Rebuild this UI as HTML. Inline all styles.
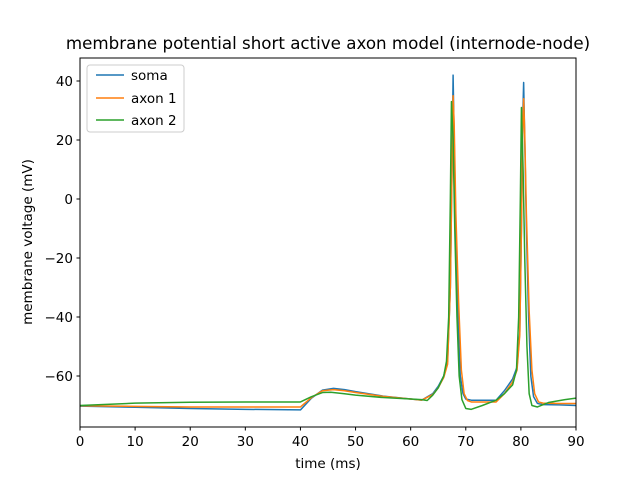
<!DOCTYPE html>
<html><head><meta charset="utf-8"><style>
body{margin:0;background:#fff}
svg{display:block;font-family:"DejaVu Sans","Liberation Sans",sans-serif}
</style></head><body>
<svg id="chart" width="640" height="480">
<rect width="640" height="480" fill="#fff"/>
<text x="328" y="49" text-anchor="middle" font-size="16.7">membrane potential short active axon model (internode-node)</text>
<g id="plot"></g>
<rect x="80" y="58" width="496" height="369" fill="none" stroke="#000" stroke-width="1"/>
<g id="xt"></g><g id="yt"></g>
<text x="328" y="468" text-anchor="middle" font-size="13.5">time (ms)</text>
<text transform="translate(32,242) rotate(-90)" text-anchor="middle" font-size="13.5">membrane voltage (mV)</text>
<g>
<rect x="87" y="65" width="97" height="67" rx="3" fill="#fff" fill-opacity="0.8" stroke="#ccc"/>
<g><line x1="96" x2="124" y1="75" y2="75" stroke="#1f77b4" stroke-width="1.5"/><text x="131" y="80" font-size="13.5">soma</text></g>
<g><line x1="96" x2="124" y1="98" y2="98" stroke="#ff7f0e" stroke-width="1.5"/><text x="131" y="103" font-size="13.5">axon 1</text></g>
<g><line x1="96" x2="124" y1="120" y2="120" stroke="#2ca02c" stroke-width="1.5"/><text x="131" y="125" font-size="13.5">axon 2</text></g>
</g>
</svg>
<script>
const xTicks=[0,10,20,30,40,50,60,70,80,90];
const yTicks=[40,20,0,-20,-40,-60];
const somaT=[0,10,20,30,40,42,44,46,48,50,55,60,62,64,65,66,66.7,67.2,67.5,67.7,67.9,68.2,68.6,69,69.5,70,71,75.5,77,78.5,79.3,79.8,80.1,80.3,80.5,80.7,81.0,81.4,81.8,82.3,83,84,87,90];
const somaV=[-70.2,-70.6,-71,-71.3,-71.5,-67.5,-64.8,-64.2,-64.6,-65.3,-66.8,-67.8,-68.2,-66,-63.5,-60,-55,-30,10,42,20,-10,-40,-60,-66,-67.8,-68.2,-68.2,-65,-61,-57,-45,-10,25,39.5,20,-10,-40,-60,-67,-69.3,-69.7,-69.8,-70];
const axon1T=[0,10,20,30,40,42,44,46,48,50,55,60,62,64,65,66,66.7,67.2,67.5,67.7,67.9,68.2,68.7,69.2,69.7,70.3,71,75.5,77,78.5,79.3,79.8,80.1,80.3,80.5,80.7,81.0,81.5,82,82.5,83.2,84,87,90];
const axon1V=[-70.1,-70.3,-70.5,-70.5,-70.5,-67.3,-65,-64.6,-65,-65.6,-66.9,-67.8,-68.2,-66.3,-64,-60.5,-56,-30,10,35,25,-5,-35,-58,-66,-68.3,-68.8,-68.8,-66,-62,-58,-46,-10,20,34,22,-5,-38,-58,-66,-68.8,-69.2,-69.3,-69.3];
const axon2T=[0,10,20,30,40,42,44,45.5,48,50,55,60,62,63,64,65,66,66.5,66.9,67.2,67.4,67.7,68,68.4,68.8,69.3,70,71,73,75.5,77,78.5,79.2,79.6,79.9,80.1,80.4,80.7,81.1,81.5,82,83,85,88,90];
const axon2V=[-70,-69.2,-68.9,-68.8,-68.8,-67,-65.6,-65.5,-66,-66.5,-67.3,-67.8,-68,-68.3,-66.5,-64,-60,-55,-40,0,33,20,-10,-40,-60,-68,-71,-71.3,-70,-68.2,-66,-63,-58,-40,0,31,10,-20,-50,-66,-70,-70.5,-69,-68,-67.5];
const X=t=>80+t*496/90;
const Y=v=>199-v*2.95;
const NS="http://www.w3.org/2000/svg";
const plot=document.getElementById('plot');
function series(T,V,color,name){
  const p=document.createElementNS(NS,'path');
  p.setAttribute('d',T.map((t,i)=>(i?'L':'M')+X(t).toFixed(2)+','+Y(V[i]).toFixed(2)).join(''));
  p.setAttribute('fill','none');p.setAttribute('stroke',color);p.setAttribute('stroke-width','1.5');p.setAttribute('stroke-linejoin','round');
  
  
  plot.appendChild(p);
}
series(somaT,somaV,'#1f77b4','soma-line');
series(axon1T,axon1V,'#ff7f0e','axon-1-line');
series(axon2T,axon2V,'#2ca02c','axon-2-line');
const xt=document.getElementById('xt');
xTicks.forEach(t=>{
  const g=document.createElementNS(NS,'g');
  
  
  g.innerHTML=`<line x1="${X(t)}" x2="${X(t)}" y1="427" y2="430.5" stroke="#000"/><text x="${X(t)}" y="446" text-anchor="middle" font-size="13.5">${t}</text>`;
  xt.appendChild(g);
});
const yt=document.getElementById('yt');
yTicks.forEach(v=>{
  const g=document.createElementNS(NS,'g');
  
  
  g.innerHTML=`<line x1="76.5" x2="80" y1="${Y(v)}" y2="${Y(v)}" stroke="#000"/><text x="73" y="${Y(v)+5}" text-anchor="end" font-size="13.5">${v<0?'\u2212'+(-v):v}</text>`;
  yt.appendChild(g);
});
</script>
</body></html>
